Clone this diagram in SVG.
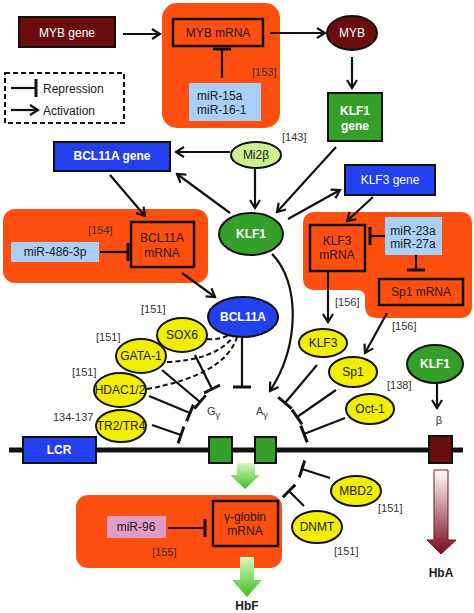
<svg xmlns="http://www.w3.org/2000/svg" width="474" height="613" viewBox="0 0 474 613">
<defs>
<style>
text{font-family:"Liberation Sans",Arial,sans-serif;font-size:12px;fill:#1a1a1a}
.w{fill:#fff}
.b{font-weight:bold}
.m{text-anchor:middle}
.s{font-size:11px;fill:#333}
.org{fill:#ff4f10}
.box{fill:#ff4f10;stroke:#111;stroke-width:2.5}
.blue{fill:#2340f0;stroke:#111;stroke-width:2}
.dred{fill:#6b0d0d;stroke:#111;stroke-width:2}
.grn{fill:#34a02a;stroke:#111;stroke-width:2}
.yel{fill:#f2ee00;stroke:#111;stroke-width:2}
.mir{fill:#a9cff5}
.act{fill:none;stroke:#111;stroke-width:2.2;marker-end:url(#arr)}
.rep{fill:none;stroke:#111;stroke-width:2.2;marker-end:url(#tee)}
.dash{fill:none;stroke:#111;stroke-width:2;stroke-dasharray:5,3}
</style>
<marker id="arr" viewBox="0 0 12 12" refX="10" refY="6" markerWidth="12" markerHeight="12" markerUnits="userSpaceOnUse" orient="auto">
<path d="M2,1 L10,6 L2,11" fill="none" stroke="#111" stroke-width="2.2"/>
</marker>
<marker id="tee" viewBox="0 0 4 18" refX="2" refY="9" markerWidth="4" markerHeight="18" markerUnits="userSpaceOnUse" orient="auto">
<path d="M2,0 L2,18" stroke="#111" stroke-width="3"/>
</marker>
<linearGradient id="gg" x1="0" y1="0" x2="0" y2="1">
<stop offset="0" stop-color="#d8f8c0"/>
<stop offset="1" stop-color="#3cc020"/>
</linearGradient>
<linearGradient id="rg" x1="0" y1="0" x2="0" y2="1">
<stop offset="0" stop-color="#ffffff"/>
<stop offset="1" stop-color="#7a0a18"/>
</linearGradient>
</defs>

<!-- background panels -->
<g id="panels">
<rect class="org" x="162" y="3" width="118" height="125" rx="15"/>
<rect class="org" x="3" y="209" width="205" height="74" rx="12"/>
<path class="org" d="M315 212 H460 Q472 212 472 224 V306 Q472 318 460 318 H377 Q365 318 365 306 V298 Q365 290 357 290 H315 Q303 290 303 278 V224 Q303 212 315 212 Z"/>
<rect class="org" x="76" y="495" width="206" height="73" rx="12"/>
</g>

<!-- legend -->
<g id="legend">
<rect x="5" y="73" width="119" height="50" fill="none" stroke="#111" stroke-width="2" stroke-dasharray="5,3"/>
<line class="rep" x1="11" y1="88" x2="36" y2="88"/>
<text x="43" y="93">Repression</text>
<line class="act" x1="11" y1="110" x2="38" y2="110"/>
<text x="43" y="115">Activation</text>
</g>

<!-- chromosome -->
<g id="chromosome">
<line x1="9" y1="450" x2="463" y2="450" stroke="#111" stroke-width="5"/>
</g>

<g id="connectors">
<line class="act" x1="123" y1="34" x2="160" y2="34"/>
<line class="act" x1="270" y1="33" x2="325" y2="33"/>
<line class="act" x1="352" y1="57" x2="352" y2="88"/>
<line class="rep" x1="222" y1="78" x2="222" y2="49"/>
<line class="act" x1="230" y1="152" x2="176" y2="152"/>
<line class="act" x1="255" y1="169" x2="255" y2="208"/>
<line class="act" x1="230" y1="213" x2="177" y2="174"/>
<line class="act" x1="336" y1="147" x2="277" y2="212"/>
<line class="act" x1="288" y1="219" x2="340" y2="190"/>
<line class="act" x1="373" y1="197" x2="347" y2="221"/>
<line class="act" x1="110" y1="175" x2="145" y2="216"/>
<line class="rep" x1="100" y1="252" x2="128" y2="252"/>
<line class="act" x1="182" y1="273" x2="215" y2="297"/>
<line class="rep" x1="385" y1="236" x2="370" y2="236"/>
<line class="rep" x1="416" y1="255" x2="416" y2="270"/>
<line class="act" x1="328" y1="272" x2="328" y2="322"/>
<line class="act" x1="387" y1="313" x2="365" y2="353"/>
<path class="act" d="M272 254 C300 282 300 345 270 391"/>
<line class="rep" x1="242" y1="338" x2="242" y2="387"/>
<path class="dash" d="M207 339 Q220 340 229 335"/>
<path class="dash" d="M167 362 Q215 360 233 337"/>
<path class="dash" d="M147 389 Q225 375 237 337"/>
<line class="rep" x1="195" y1="355" x2="212" y2="389"/>
<line class="rep" x1="162" y1="370" x2="200" y2="402"/>
<line class="rep" x1="149" y1="396" x2="190" y2="413"/>
<line class="rep" x1="152" y1="425" x2="181" y2="435"/>
<line class="rep" x1="317" y1="365" x2="285" y2="403"/>
<line class="rep" x1="336" y1="390" x2="297" y2="417"/>
<line class="rep" x1="345" y1="418" x2="304" y2="434"/>
<line class="act" x1="437" y1="383" x2="437" y2="408"/>
<line class="rep" x1="330" y1="478" x2="302" y2="469"/>
<line class="rep" x1="304" y1="506" x2="289" y2="491"/>
<line class="rep" x1="168" y1="528" x2="205" y2="528"/>
<path d="M237 463 H255 V475 H260 L245 489 L230 475 H237 Z" fill="url(#gg)"/>
<path d="M240 557 H254 V580 H262 L247 597 L232 580 H240 Z" fill="url(#gg)"/>
<path d="M434 470 H448 V540 H456 L441 554 L427 540 H434 Z" fill="url(#rg)" stroke="#7a1020" stroke-width="1"/>
</g>

<g id="myb-gene"><rect class="dred" x="19" y="17" width="96" height="30"/><text class="w m" x="67" y="37">MYB gene</text></g>
<g id="myb-mrna"><rect class="box" x="173" y="19" width="90" height="27"/><text class="m" x="218" y="37">MYB mRNA</text></g>
<g id="mir-15a"><rect class="mir" x="189" y="83" width="72" height="38"/><text x="197" y="100">miR-15a</text><text x="197" y="114">miR-16-1</text></g>
<text class="s" x="252" y="76">[153]</text>
<g id="myb"><ellipse cx="352" cy="33" rx="25" ry="17" fill="#6b0d0d" stroke="#111" stroke-width="2"/><text class="w m" x="352" y="37">MYB</text></g>
<g id="klf1-gene"><rect class="grn" x="328" y="93" width="54" height="48"/><text class="w b m" x="355" y="115">KLF1</text><text class="w b m" x="355" y="130">gene</text></g>
<g id="bcl11a-gene"><rect class="blue" x="54" y="142" width="116" height="29"/><text class="w b m" x="112" y="160">BCL11A gene</text></g>
<g id="mi2b"><ellipse cx="256" cy="155" rx="25" ry="13" fill="#ccf08f" stroke="#111" stroke-width="2"/><text class="m" x="256" y="159">Mi2β</text></g>
<text class="s" x="282" y="141">[143]</text>
<g id="klf1"><ellipse cx="251" cy="234" rx="32" ry="21" fill="#34a02a" stroke="#111" stroke-width="2"/><text class="w b m" x="251" y="238">KLF1</text></g>
<g id="klf3-gene"><rect class="blue" x="345" y="165" width="90" height="30"/><text class="w m" x="390" y="184">KLF3 gene</text></g>
<g id="bcl11a-mrna"><rect class="box" x="131" y="222" width="63" height="45"/><text class="m" x="162" y="242">BCL11A</text><text class="m" x="162" y="257">mRNA</text></g>
<g id="mir-486"><rect class="mir" x="11" y="242" width="88" height="20"/><text class="m" x="55" y="256">miR-486-3p</text></g>
<text class="s" x="88" y="234">[154]</text>
<g id="klf3-mrna"><rect class="box" x="310" y="225" width="55" height="46"/><text class="m" x="337" y="245">KLF3</text><text class="m" x="337" y="259">mRNA</text></g>
<g id="mir-23a"><rect class="mir" x="385" y="217" width="57" height="38"/><text class="m" x="413" y="235">miR-23a</text><text class="m" x="413" y="248">miR-27a</text></g>
<g id="sp1-mrna"><rect class="box" x="379" y="279" width="84" height="26"/><text class="m" x="421" y="296">Sp1 mRNA</text></g>
<text class="s" x="335" y="306">[156]</text>
<text class="s" x="392" y="330">[156]</text>
<g id="bcl11a"><ellipse cx="243" cy="317" rx="35" ry="20" fill="#2340f0" stroke="#111" stroke-width="2"/><text class="w b m" x="243" y="321">BCL11A</text></g>
<g id="sox6"><ellipse class="yel" cx="182" cy="335" rx="25" ry="17"/><text class="m" x="182" y="339">SOX6</text></g>
<text class="s" x="141" y="313">[151]</text>
<g id="gata1"><ellipse class="yel" cx="141" cy="356" rx="25" ry="17"/><text class="m" x="141" y="360">GATA-1</text></g>
<text class="s" x="96" y="341">[151]</text>
<g id="hdac"><ellipse class="yel" cx="120" cy="390" rx="26" ry="17"/><text class="m" x="120" y="394" font-size="11">HDAC1/2</text></g>
<text class="s" x="72" y="376">[151]</text>
<g id="tr2tr4"><ellipse class="yel" cx="121" cy="426" rx="25" ry="16"/><text class="m" x="121" y="430" font-size="11.5">TR2/TR4</text></g>
<text class="s" x="53" y="421">134-137</text>
<g id="klf3"><ellipse class="yel" cx="323" cy="343" rx="24" ry="14"/><text class="m" x="323" y="347">KLF3</text></g>
<g id="sp1"><ellipse class="yel" cx="353" cy="372" rx="24" ry="15"/><text class="m" x="353" y="376">Sp1</text></g>
<g id="oct1"><ellipse class="yel" cx="370" cy="409" rx="24" ry="15"/><text class="m" x="370" y="413">Oct-1</text></g>
<text class="s" x="387" y="389">[138]</text>
<g id="klf1-right"><ellipse cx="435" cy="364" rx="28" ry="19" fill="#34a02a" stroke="#111" stroke-width="2"/><text class="w b m" x="435" y="368">KLF1</text></g>
<text class="s m" x="439" y="424">β</text>
<text class="s" x="207" y="415">G<tspan font-size="9" dy="3">γ</tspan></text>
<text class="s" x="256" y="415">A<tspan font-size="9" dy="3">γ</tspan></text>
<g id="lcr"><rect class="blue" x="23" y="437" width="73" height="26"/><text class="w b m" x="59" y="454">LCR</text></g>
<g id="g-gamma"><rect class="grn" x="209" y="437" width="23" height="26"/></g>
<g id="a-gamma"><rect class="grn" x="255" y="437" width="21" height="26"/></g>
<g id="beta"><rect class="dred" x="429" y="436" width="23" height="27"/></g>
<g id="mir-96"><rect x="107" y="516" width="59" height="22" fill="#df9cc5"/><text class="m" x="136" y="531">miR-96</text></g>
<text class="s" x="152" y="556">[155]</text>
<g id="gglobin-mrna"><rect class="box" x="213" y="501" width="65" height="45"/><text class="m" x="245" y="521">γ-globin</text><text class="m" x="245" y="535">mRNA</text></g>
<g id="mbd2"><ellipse class="yel" cx="356" cy="491" rx="25" ry="15"/><text class="m" x="356" y="495">MBD2</text></g>
<text class="s" x="378" y="512">[151]</text>
<g id="dnmt"><ellipse class="yel" cx="317" cy="527" rx="25" ry="16"/><text class="m" x="317" y="531">DNMT</text></g>
<text class="s" x="334" y="555">[151]</text>
<text class="b m" x="247" y="610">HbF</text>
<text class="b m" x="441" y="577">HbA</text>
</svg>
